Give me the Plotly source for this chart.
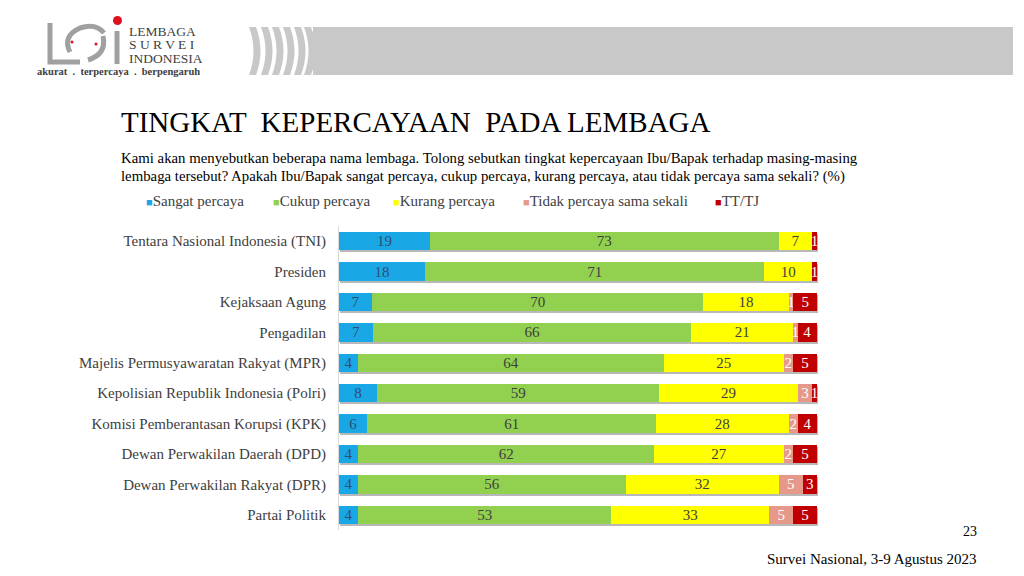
import plotly.graph_objects as go

categories = [
    "Tentara Nasional Indonesia (TNI)",
    "Presiden",
    "Kejaksaan Agung",
    "Pengadilan",
    "Majelis Permusyawaratan Rakyat (MPR)",
    "Kepolisian Republik Indonesia (Polri)",
    "Komisi Pemberantasan Korupsi (KPK)",
    "Dewan Perwakilan Daerah (DPD)",
    "Dewan Perwakilan Rakyat (DPR)",
    "Partai Politik",
]
sangat = [19, 18, 7, 7, 4, 8, 6, 4, 4, 4]
cukup = [73, 71, 70, 66, 64, 59, 61, 62, 56, 53]
kurang = [7, 10, 18, 21, 25, 29, 28, 27, 32, 33]
tidak = [0, 0, 1, 1, 2, 3, 2, 2, 5, 5]
tttj = [1, 1, 5, 4, 5, 1, 4, 5, 3, 5]

series_names = ["Sangat percaya", "Cukup percaya", "Kurang percaya", "Tidak percaya sama sekali", "TT/TJ"]
series_values = [sangat, cukup, kurang, tidak, tttj]
colors = ["#1AA7E6", "#92D050", "#FFFF00", "#E6998A", "#C00000"]
text_colors = ["#2F4E6F", "#3F3F3F", "#3F3F3F", "#FFFFFF", "#FFFFFF"]

# page body has an 8px margin: figure fills the rest of the 1024x576 window
OFF = 8
W, H = 1024 - OFF, 576 - OFF
SERIF = "Liberation Serif, Times New Roman, serif"


def px(x):
    return (x - OFF) / W


def py(y):
    return 1 - (y - OFF) / H


totals = [sum(v) for v in zip(*series_values)]

fig = go.Figure()
# soft drop shadow under each bar
fig.add_trace(go.Bar(
    y=categories, x=totals, orientation="h", xaxis="x", yaxis="y",
    marker=dict(color="rgba(0,0,0,0.28)", line=dict(width=0)),
    width=0.6, showlegend=False, hoverinfo="skip",
))
for name, vals, col, tcol in zip(series_names, series_values, colors, text_colors):
    fig.add_trace(go.Bar(
        y=categories, x=vals, name=name, orientation="h", xaxis="x2", yaxis="y2",
        marker=dict(color=col, line=dict(width=0)),
        text=[str(v) for v in vals], textposition="inside", textangle=0,
        insidetextanchor="middle", constraintext="none",
        textfont=dict(family=SERIF, size=15, color=tcol),
        width=0.6, showlegend=False,
        hoverinfo="x+y+name",
    ))

top, bottom, left, right = 226, 530, 339, 817
fig.update_layout(
    width=W, height=H, barmode="stack", barnorm="percent",
    margin=dict(l=0, r=0, t=0, b=0),
    paper_bgcolor="white", plot_bgcolor="rgba(0,0,0,0)",
    uniformtext=dict(minsize=13, mode="show"),
    xaxis=dict(domain=[px(left + 1), px(right + 1)], range=[0, 100], visible=False, fixedrange=True),
    yaxis=dict(domain=[py(bottom + 2), py(top + 2)], autorange="reversed", visible=False,
               fixedrange=True),
    xaxis2=dict(domain=[px(left), px(right)], range=[0, 100], visible=False, fixedrange=True,
                anchor="y2"),
    yaxis2=dict(domain=[py(bottom), py(top)], autorange="reversed", showline=True, anchor="x2",
                linecolor="#D9D9D9", linewidth=1, showgrid=False, ticks="",
                ticklabelstandoff=9, fixedrange=True,
                tickfont=dict(family=SERIF, size=15, color="#404040")),
    showlegend=False,
    font=dict(family=SERIF),
)

shapes = []
# header band
shapes.append(dict(type="rect", xref="paper", yref="paper", x0=px(313), x1=px(1013),
                   y0=py(75), y1=py(27), fillcolor="#C8C8C8", line=dict(width=0), layer="below"))
for sx in [249, 261, 272, 283, 294, 304]:
    path = (f"M {px(sx)},{py(27)} Q {px(sx+9)},{py(51)} {px(sx)},{py(75)} "
            f"L {px(sx+7)},{py(75)} Q {px(sx+16)},{py(51)} {px(sx+7)},{py(27)} Z")
    shapes.append(dict(type="path", xref="paper", yref="paper", path=path,
                       fillcolor="#C8C8C8", line=dict(width=0), layer="below"))
shapes.append(dict(type="rect", xref="paper", yref="paper", x0=px(1017), x1=px(1024),
                   y0=py(75), y1=py(27), fillcolor="#FF0000", line=dict(width=0), layer="below"))
# logo glyph (approximation)
logo_paths = [
    f"M {px(50)},{py(23)} L {px(50)},{py(62)} L {px(80)},{py(62)}",
    f"M {px(70)},{py(52)} Q {px(62)},{py(36)} {px(80)},{py(28)} Q {px(96)},{py(23)} {px(104)},{py(33)}",
    f"M {px(103)},{py(36)} Q {px(107)},{py(54)} {px(88)},{py(60)}",
    f"M {px(117)},{py(31)} L {px(117)},{py(64)}",
]
for p in logo_paths:
    shapes.append(dict(type="path", xref="paper", yref="paper", path=p,
                       line=dict(color="#A0A0A0", width=5)))
shapes.append(dict(type="circle", xref="paper", yref="paper", x0=px(113), x1=px(122),
                   y0=py(25), y1=py(16), fillcolor="#E0101E", line=dict(width=0)))
for cx, cy in [(72, 42), (96, 44)]:
    shapes.append(dict(type="circle", xref="paper", yref="paper", x0=px(cx-1.5), x1=px(cx+1.5),
                       y0=py(cy+1.5), y1=py(cy-1.5), fillcolor="#E0101E", line=dict(width=0)))
fig.update_layout(shapes=shapes)

ann = []


def add_text(x, y, text, size, color="#000000", xanchor="left", family=SERIF):
    ann.append(dict(xref="paper", yref="paper", x=px(x), y=py(y), text=text, showarrow=False,
                    xanchor=xanchor, yanchor="middle", borderpad=0,
                    font=dict(family=family, size=size, color=color)))


add_text(128, 32, "LEMBAGA", 13.5, "#404040")
add_text(128, 45, "S U R V E I", 13.5, "#404040")
add_text(128, 58, "INDONESIA", 13.5, "#404040")
add_text(36, 72, "<b>akurat  .  terpercaya  .  berpengaruh</b>", 10.5, "#404040")
add_text(120, 122, "TINGKAT  KEPERCAYAAN  PADA LEMBAGA", 29)
add_text(120, 158, "Kami akan menyebutkan beberapa nama lembaga. Tolong sebutkan tingkat kepercayaan Ibu/Bapak terhadap masing-masing", 14.8)
add_text(120, 176, "lembaga tersebut? Apakah Ibu/Bapak sangat percaya, cukup percaya, kurang percaya, atau tidak percaya sama sekali? (%)", 14.8)

# legend built from the series names and colours
legend_x = [145, 272, 392, 522, 714]
for lx, name, col in zip(legend_x, series_names, colors):
    add_text(lx, 201, f"<span style='color:{col};font-size:11px'>■</span>{name}", 15, "#404040")

add_text(978, 531, "23", 14, xanchor="right")
add_text(978, 559, "Survei Nasional, 3-9 Agustus 2023", 15, xanchor="right")
fig.update_layout(annotations=ann)

fig.write_html("out.html")
